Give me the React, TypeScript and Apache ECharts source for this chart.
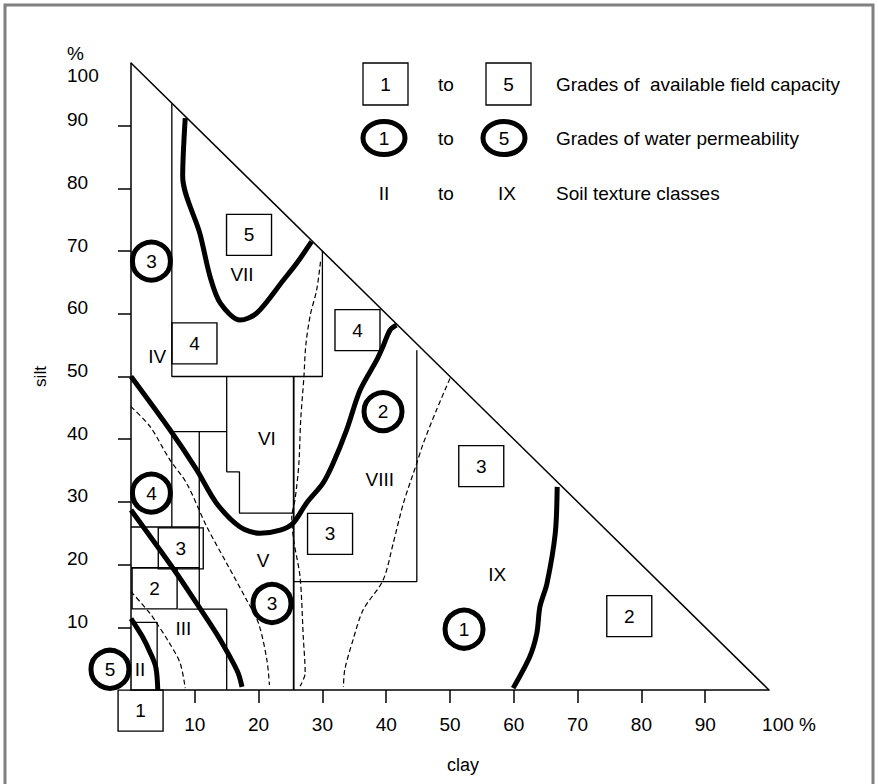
import React, { useEffect, useRef } from "react";
import * as echarts from "echarts";

// ---- axes ----
const tickValues = [10, 20, 30, 40, 50, 60, 70, 80, 90];
const labelValues = [10, 20, 30, 40, 50, 60, 70, 80, 90, 100];

// ---- triangle edge ----
const hypotenuse = [[0, 100], [100, 0]];

// ---- thin solid boundaries (field capacity / texture classes) [clay, silt] ----
const boundaryVII = [[6.4, 93.6], [6.4, 50], [30, 50], [30, 70]];
const boundaryVI = [[15, 50], [15, 34.8], [17, 34.8], [17, 28.2], [25.5, 28.2]];
const boundaryV = [[25.5, 50], [25.5, 0]];
const boundaryIIIupper = [[6.4, 26], [6.4, 41.2], [15, 41.2]];
const boundaryIIImid = [[10.7, 41.2], [10.7, 12.9]];
const boundaryIII26 = [[0, 26], [10.7, 26]];
const boundaryIII19 = [[0, 19.5], [10.7, 19.5]];
const boundaryIIIlower = [[7.4, 12.9], [15, 12.9], [15, 0]];
const boundaryII = [[0, 10.8], [4.1, 10.8], [4.1, 0]];
const boundaryVIII = [[25.5, 17.3], [44.8, 17.3], [44.8, 54.2]];

// ---- thick boundaries (water permeability) ----
const perm5Line = [[0, 11.4], [1.8, 8.5], [3.0, 6.0], [3.9, 3.6], [4.2, 0]];
const perm4Line = [[0, 28.7], [6.8, 19.1], [10.3, 13.8], [13.4, 9.0], [15.5, 5.3], [16.8, 2.7], [17.4, 0.5]];
const perm3Line = [
  [0, 50.0], [6.1, 41.5], [10.3, 35.1], [13.4, 29.8], [17.1, 26.0], [20.2, 25.0], [23.4, 25.5],
  [25.4, 26.6], [27.5, 29.8], [30.1, 33.0], [31.7, 36.2], [33.8, 41.5], [35.9, 47.8], [38.5, 52.6],
  [39.5, 54.8], [40.6, 57.4], [41.6, 58.2],
];
const perm5TopLine = [
  [8.5, 91.2], [8.1, 81.9], [10.8, 72.8], [12.4, 65.9], [14.0, 61.7], [17.1, 59.0], [19.7, 60.1],
  [23.9, 65.4], [26.0, 68.1], [28.3, 71.5],
];
const perm1Line = [[66.8, 32.4], [66.5, 25.0], [65.2, 17.0], [64.1, 13.3], [63.6, 9.0], [62.5, 5.3], [59.9, 0.3]];

// ---- dashed texture boundaries ----
const dashA = [[0, 15.7], [3.0, 12.2], [4.2, 10.4], [5.9, 7.7], [7.7, 4.3], [8.5, 0.3]];
const dashB = [
  [0, 45.2], [3.0, 42.0], [6.1, 36.7], [8.7, 33.0], [11.9, 26.0], [15.0, 20.2], [18.1, 14.4],
  [20.0, 10.6], [21.3, 4.8], [21.7, 0.8],
];
const dashC = [
  [29.7, 68.3], [29.1, 63.8], [28.1, 59.8], [27.4, 55.0], [27.1, 49.9], [26.6, 43.1], [26.3, 35.9],
  [25.7, 30.3], [25.2, 27.6], [25.5, 23.9], [26.5, 18.0], [27.0, 8.5], [27.3, 2.7], [26.5, 0.6],
];
const dashD = [
  [50.0, 49.7], [47.9, 44.7], [45.8, 39.3], [44.8, 36.2], [42.7, 29.8], [41.1, 23.4], [39.5, 17.5],
  [36.4, 12.8], [34.8, 8.0], [33.5, 3.2], [33.3, 0.5],
];

// ---- markers ----
const capacityBoxes = [
  [18.5, 72.6, "5"], [9.95, 55.3, "4"], [35.5, 57.4, "4"], [7.8, 22.6, "3"], [3.7, 16.2, "2"],
  [31.2, 24.9, "3"], [54.9, 35.7, "3"], [78.1, 11.8, "2"], [1.5, -3.3, "1"],
];
const permCircles = [
  [3.2, 68.4, "3"], [39.5, 44.4, "2"], [3.2, 31.4, "4"], [22.1, 13.8, "3"], [52.2, 9.7, "1"], [-3.3, 3.3, "5"],
];
const textureLabels = [
  [17.4, 66.2, "VII"], [4.1, 53.2, "IV"], [21.3, 40.1, "VI"], [39.0, 33.6, "VIII"], [20.7, 20.7, "V"],
  [8.2, 9.8, "III"], [1.4, 3.3, "II"], [57.4, 18.4, "IX"],
];

// ---- legend ----
const legendStarts = ["1", "1", "II"];
const legendEnds = ["5", "5", "IX"];
const legendTexts = ["Grades of  available field capacity", "Grades of water permeability", "Soil texture classes"];
const legendJoin = "to";

const FONT = "'Liberation Sans', Arial, sans-serif";
const FS = 19;

function line(data: number[][], width: number, dashed = false, smooth: number | boolean = false) {
  return {
    type: "line",
    data,
    symbol: "none",
    silent: true,
    smooth,
    clip: false,
    lineStyle: { color: "#000", width, opacity: 1, type: dashed ? [5, 3] : "solid", cap: "butt" },
  };
}

const markerLabel = {
  show: true, position: "inside", formatter: (p: any) => p.value[2],
  color: "#000", opacity: 1, fontSize: FS, fontFamily: FONT,
};

export default function App() {
  const ref = useRef<HTMLDivElement>(null);
  useEffect(() => {
    if (!ref.current) return;
    const chart = echarts.init(ref.current, undefined, { renderer: "svg" });

    const rowY = [84, 138, 193];
    const legendGraphics: any[] = [];
    rowY.forEach((y, i) => {
      if (i === 0) {
        legendGraphics.push({ type: "rect", shape: { x: 363, y: y - 21, width: 45, height: 42 }, style: { fill: "none", stroke: "#000", lineWidth: 1.3 } });
        legendGraphics.push({ type: "rect", shape: { x: 486, y: y - 21, width: 45, height: 42 }, style: { fill: "none", stroke: "#000", lineWidth: 1.3 } });
      } else if (i === 1) {
        legendGraphics.push({ type: "ellipse", shape: { cx: 384, cy: y, rx: 21, ry: 16.5 }, style: { fill: "none", stroke: "#000", lineWidth: 5 } });
        legendGraphics.push({ type: "ellipse", shape: { cx: 504, cy: y, rx: 21, ry: 16.5 }, style: { fill: "none", stroke: "#000", lineWidth: 5 } });
      }
      const sx = i === 0 ? 385.5 : 384;
      const ex = i === 0 ? 508.5 : i === 1 ? 504 : 507;
      legendGraphics.push({ type: "text", x: sx, y, style: { text: legendStarts[i], font: `${FS}px ${FONT}`, fill: "#000", align: "center", verticalAlign: "middle" } });
      legendGraphics.push({ type: "text", x: 446, y, style: { text: legendJoin, font: `${FS}px ${FONT}`, fill: "#000", align: "center", verticalAlign: "middle" } });
      legendGraphics.push({ type: "text", x: ex, y, style: { text: legendEnds[i], font: `${FS}px ${FONT}`, fill: "#000", align: "center", verticalAlign: "middle" } });
      legendGraphics.push({ type: "text", x: 556, y, style: { text: legendTexts[i], font: `${FS}px ${FONT}`, fill: "#000", align: "left", verticalAlign: "middle" } });
    });

    const option: any = {
      animation: false,
      backgroundColor: "#fff",
      textStyle: { fontFamily: FONT },
      grid: { left: 131, top: 63, width: 638, height: 627, outerBoundsMode: "none", containLabel: false },
      xAxis: {
        type: "value", min: 0, max: 100, interval: 10,
        splitLine: { show: false },
        axisLine: { show: true, onZero: false, lineStyle: { color: "#000", width: 1.5 } },
        axisTick: { show: true, length: 13, customValues: tickValues, lineStyle: { color: "#000", width: 1.5 } },
        axisLabel: {
          customValues: labelValues, margin: 25, color: "#000", fontSize: FS, fontFamily: FONT,
          formatter: (v: number) => (v === 100 ? "{e|100 %}" : String(v)),
          rich: { e: { padding: [0, 0, 0, 40], fontSize: FS, fontFamily: FONT, color: "#000" } },
        },
        name: "clay", nameLocation: "middle", nameGap: 66,
        nameTextStyle: { color: "#000", fontSize: 18, fontFamily: FONT, padding: [0, 0, 0, 26] },
      },
      yAxis: {
        type: "value", min: 0, max: 100, interval: 10,
        splitLine: { show: false },
        axisLine: { show: true, onZero: false, lineStyle: { color: "#000", width: 1.5 } },
        axisTick: { show: true, length: 13, customValues: tickValues, lineStyle: { color: "#000", width: 1.5 } },
        axisLabel: {
          customValues: labelValues, margin: 64, align: "left", color: "#000", fontSize: FS, fontFamily: FONT,
          formatter: (v: number) => (v === 100 ? "{p|%}\n{h|100}" : `{n|${v}}`),
          rich: {
            n: { padding: [0, 0, 12, 0], fontSize: FS, fontFamily: FONT, color: "#000" },
            p: { padding: [5, 0, 0, 0], lineHeight: 25, fontSize: FS, fontFamily: FONT, color: "#000" },
            h: { lineHeight: 25, fontSize: FS, fontFamily: FONT, color: "#000" },
          },
        },
        name: "silt", nameLocation: "middle", nameGap: 82, nameRotate: 90,
        nameTextStyle: { color: "#000", fontSize: 17, fontFamily: FONT },
      },
      graphic: [
        { type: "rect", silent: true, shape: { x: 5, y: 5, width: 868, height: 840 }, style: { fill: "none", stroke: "#808080", lineWidth: 3 } },
        ...legendGraphics,
      ],
      series: [
        line(hypotenuse, 1.5),
        line(boundaryVII, 1.3),
        line(boundaryVI, 1.3),
        line(boundaryV, 1.8),
        line(boundaryIIIupper, 1.3),
        line(boundaryIIImid, 1.3),
        line(boundaryIII26, 1.3),
        line(boundaryIII19, 1.3),
        line(boundaryIIIlower, 1.3),
        line(boundaryII, 1.3),
        line(boundaryVIII, 1.3),
        line(perm5Line, 5, false, 0.3),
        line(perm4Line, 5, false, 0.3),
        line(perm3Line, 5, false, 0.3),
        line(perm5TopLine, 5, false, 0.3),
        line(perm1Line, 5, false, 0.3),
        line(dashA, 1.2, true, 0.3),
        line(dashB, 1.2, true, 0.3),
        line(dashC, 1.2, true, 0.3),
        line(dashD, 1.2, true, 0.3),
        {
          type: "scatter", data: capacityBoxes, silent: true, clip: false,
          symbol: "rect", symbolSize: [45, 41],
          itemStyle: { color: "rgba(0,0,0,0)", borderColor: "#000", borderWidth: 1.3, opacity: 1 },
          label: markerLabel,
        },
        {
          type: "scatter", data: permCircles, silent: true, clip: false,
          symbol: "circle", symbolSize: 38,
          itemStyle: { color: "rgba(0,0,0,0)", borderColor: "#000", borderWidth: 5, opacity: 1 },
          label: markerLabel,
        },
        {
          type: "scatter", data: textureLabels, silent: true, clip: false,
          symbol: "circle", symbolSize: 1,
          itemStyle: { color: "rgba(0,0,0,0)", opacity: 1 },
          label: markerLabel,
        },
      ],
    };
    chart.setOption(option);
    return () => chart.dispose();
  }, []);
  return <div ref={ref} style={{ position: "fixed", left: 0, top: 0, width: 878, height: 784, background: "#fff" }} />;
}
